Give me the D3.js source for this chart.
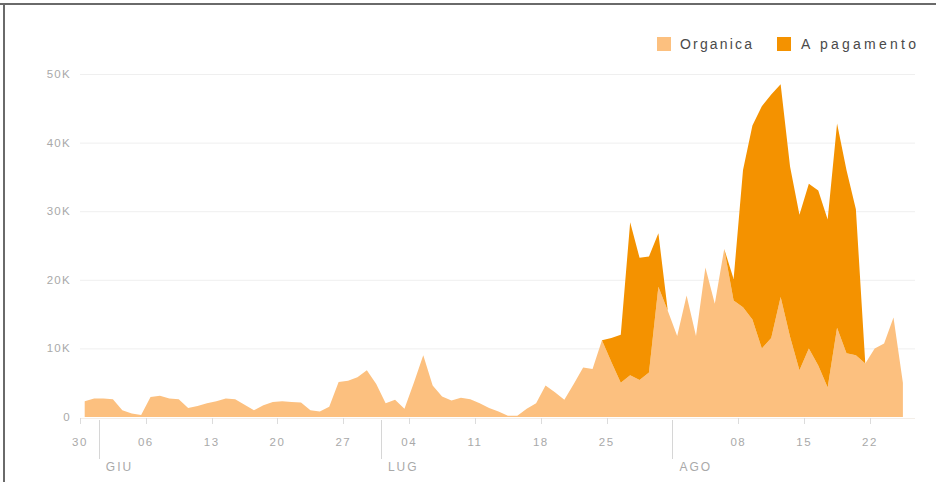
<!DOCTYPE html>
<html>
<head>
<meta charset="utf-8">
<script src="https://cdn.jsdelivr.net/npm/d3@7"></script>
<style>
  html, body { margin: 0; padding: 0; background: #fff; }
  svg { display: block; font-family: "Liberation Sans", Arial, sans-serif; }
</style>
</head>
<body>
<svg id="chart" width="936" height="482"></svg>
<script>
// Daily sessions, 30 May – 25 Aug
const firstDay = "2016-05-30";
const lastTickDay = "2016-08-26";

const organic = [
  2300, 2700, 2700, 2600, 1000, 500, 300, 2900, 3100, 2700,
  2600, 1300, 1600, 2000, 2300, 2700, 2600, 1800, 1000, 1700,
  2200, 2300, 2200, 2100, 1000, 800, 1500, 5100, 5300, 5800,
  6800, 4800, 2000, 2500, 1200, 5000, 9000, 4600, 3000, 2400,
  2800, 2600, 2000, 1300, 800, 200, 200, 1200, 2000, 4600,
  3600, 2500, 4800, 7200, 7000, 11200, 8000, 5000, 6100, 5400,
  6500, 19000, 15500, 11800, 17700, 11800, 21800, 16500, 24500, 17000,
  16000, 14200, 10000, 11500, 17500, 11700, 6800, 10000, 7500, 4300,
  13000, 9300, 9000, 7800, 10000, 10700, 14500, 5000
];

const paid = [
  0, 0, 0, 0, 0, 0, 0, 0, 0, 0,
  0, 0, 0, 0, 0, 0, 0, 0, 0, 0,
  0, 0, 0, 0, 0, 0, 0, 0, 0, 0,
  0, 0, 0, 0, 0, 0, 0, 0, 0, 0,
  0, 0, 0, 0, 0, 0, 0, 0, 0, 0,
  0, 0, 0, 0, 0, 0, 3500, 7000, 22300, 17800,
  16900, 7800, 0, 0, 0, 0, 0, 0, 0, 3100,
  20000, 28300, 35300, 35500, 31000, 24800, 22700, 24000, 25500, 24500,
  29800, 26700, 21300, 0, 0, 0, 0, 0
];

const seriesKeys = ["organic", "paid"];
const seriesNames = ["Organica", "A pagamento"];
const seriesColors = ["#fcc07f", "#f49200"];

const weekTicks = [
  "2016-05-30", "2016-06-06", "2016-06-13", "2016-06-20", "2016-06-27",
  "2016-07-04", "2016-07-11", "2016-07-18", "2016-07-25",
  "2016-08-08", "2016-08-15", "2016-08-22"
];
const monthStarts = ["2016-06-01", "2016-07-01", "2016-08-01"];
const monthLabels = ["GIU", "LUG", "AGO"];

const yTicks = [0, 10000, 20000, 30000, 40000, 50000];
const yTickLabels = ["0", "10K", "20K", "30K", "40K", "50K"];

// ---- layout ----
const svg = d3.select("#chart");
const W = 936, H = 482;
const plot = { left: 80, right: 915, top: 74, bottom: 417 };

const parse = d3.utcParse("%Y-%m-%d");
const dayMs = 864e5;
const t0 = parse(firstDay);

const x = d3.scaleUtc()
  .domain([t0, parse(lastTickDay)])
  .range([plot.left, 907.6]);
const y = d3.scaleLinear()
  .domain([0, 50000])
  .range([plot.bottom, plot.top]);

const rows = organic.map((v, i) => ({
  date: new Date(t0.getTime() + i * dayMs + dayMs / 2),
  organic: v,
  paid: paid[i]
}));

// frame
svg.append("line").attr("x1", 0).attr("x2", W).attr("y1", 4).attr("y2", 4)
  .attr("stroke", "#6a6a6a").attr("stroke-width", 2);
svg.append("line").attr("x1", 4).attr("x2", 4).attr("y1", 4).attr("y2", H)
  .attr("stroke", "#6a6a6a").attr("stroke-width", 2);

// horizontal grid
svg.append("g").selectAll("line").data(yTicks.slice(1)).join("line")
  .attr("x1", plot.left).attr("x2", plot.right)
  .attr("y1", d => y(d) + 0.5).attr("y2", d => y(d) + 0.5)
  .attr("stroke", "#efefef").attr("stroke-width", 1);

// y labels
svg.append("g").selectAll("text").data(yTicks).join("text")
  .attr("x", 71).attr("y", d => y(d))
  .attr("dy", "0.35em")
  .attr("text-anchor", "end")
  .attr("font-size", 11.5)
  .attr("letter-spacing", 1.3)
  .attr("fill", "#a9a9a9")
  .text((d, i) => yTickLabels[i]);

// stacked areas
const stacked = d3.stack().keys(seriesKeys)(rows);
const area = d3.area()
  .x(d => x(d.data.date))
  .y0(d => y(d[0]))
  .y1(d => y(d[1]))
  .curve(d3.curveLinear);

svg.append("g").selectAll("path").data(stacked).join("path")
  .attr("d", area)
  .attr("fill", (d, i) => seriesColors[i]);

// baseline
svg.append("line").attr("x1", plot.left).attr("x2", plot.right)
  .attr("y1", plot.bottom + 1.5).attr("y2", plot.bottom + 1.5)
  .attr("stroke", "#f3eee8").attr("stroke-width", 1);

// week ticks
const tickG = svg.append("g");
const weekDates = weekTicks.map(parse);
tickG.selectAll("line").data(weekDates).join("line")
  .attr("x1", d => Math.round(x(d)) + 0.5).attr("x2", d => Math.round(x(d)) + 0.5)
  .attr("y1", plot.bottom + 1).attr("y2", plot.bottom + 7)
  .attr("stroke", "#dcdcdc");
tickG.selectAll("text").data(weekDates).join("text")
  .attr("x", d => x(d)).attr("y", 446)
  .attr("text-anchor", "middle")
  .attr("font-size", 11.5)
  .attr("letter-spacing", 1.5)
  .attr("fill", "#a9a9a9")
  .text(d3.utcFormat("%d"));

// month separators and labels
const monthDates = monthStarts.map(parse);
const monthG = svg.append("g");
monthG.selectAll("line").data(monthDates).join("line")
  .attr("x1", d => Math.round(x(d)) + 0.5).attr("x2", d => Math.round(x(d)) + 0.5)
  .attr("y1", plot.bottom + 3).attr("y2", 459)
  .attr("stroke", "#d6d6d6");
monthG.selectAll("text").data(monthDates).join("text")
  .attr("x", d => x(d) + 7).attr("y", 471)
  .attr("font-size", 12)
  .attr("letter-spacing", 2)
  .attr("fill", "#a9a9a9")
  .text((d, i) => monthLabels[i]);

// legend
const legendItems = [
  { sx: 657, tx: 680, len: 72 },
  { sx: 777, tx: 801, len: 115 }
];
const legend = svg.append("g");
legend.selectAll("rect").data(seriesNames).join("rect")
  .attr("x", (d, i) => legendItems[i].sx).attr("y", 37)
  .attr("width", 14).attr("height", 14)
  .attr("fill", (d, i) => seriesColors[i]);
legend.selectAll("text").data(seriesNames).join("text")
  .attr("x", (d, i) => legendItems[i].tx).attr("y", 49)
  .attr("font-size", 14)
  .attr("fill", "#4a4a4a")
  .attr("textLength", (d, i) => legendItems[i].len)
  .attr("lengthAdjust", "spacing")
  .text(d => d);
</script>
</body>
</html>
